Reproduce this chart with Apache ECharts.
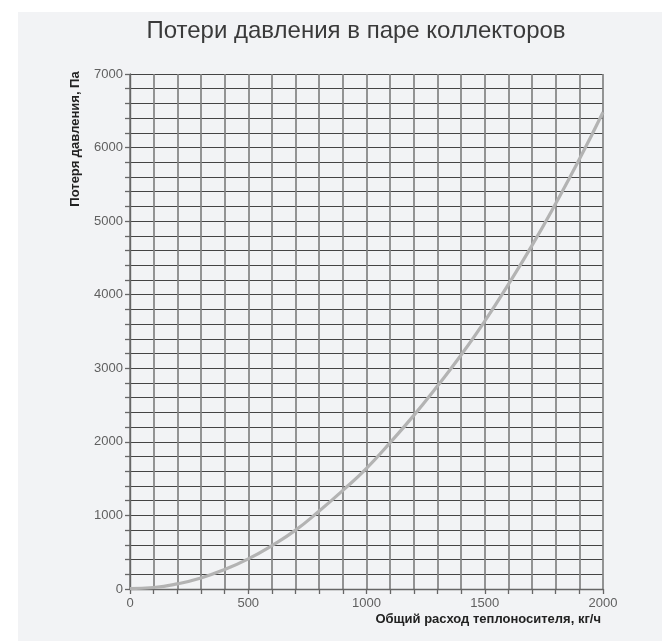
<!DOCTYPE html>
<html>
<head>
<meta charset="utf-8">
<script src="https://cdn.jsdelivr.net/npm/echarts@6/dist/echarts.min.js"></script>
<style>
html,body{margin:0;padding:0;background:#ffffff;}
#panel{position:absolute;left:18px;top:12px;width:644px;height:629px;background:#f2f3f5;}
#chart{position:absolute;left:0;top:0;width:662px;height:643px;}
</style>
</head>
<body>
<div id="panel"></div>
<div id="chart"></div>
<script>
const titleText = 'Потери давления в паре коллекторов';
const xName = 'Общий расход теплоносителя, кг/ч';
const yName = 'Потеря давления, Па';
const flow = [0,100,200,300,400,500,600,700,800,900,1000,1100,1200,1300,1400,1500,1600,1700,1800,1900,2000];
const loss = [5,20,70,150,265,410,590,800,1060,1340,1640,1990,2360,2760,3180,3640,4140,4670,5240,5840,6480];

const chart = echarts.init(document.getElementById('chart'), null, {renderer:'canvas'});
chart.setOption({
  backgroundColor: 'transparent',
  animation: false,
  title: {
    text: titleText, left: 351, top: 14, textAlign: 'center',
    textStyle: {fontFamily: 'Liberation Sans', fontSize: 24, fontWeight: 'normal', color: '#3a3a3a'}
  },
  grid: {left: 130, right: 59, top: 74, bottom: 54, containLabel: false},
  xAxis: {
    type: 'value', min: 0, max: 2000, interval: 100,
    name: xName, nameLocation: 'end', nameGap: 0,
    nameTextStyle: {fontFamily: 'Liberation Sans', fontSize: 13, fontWeight: 'bold', color: '#222',
      align: 'right', verticalAlign: 'top', padding: [24, 2, 0, 0]},
    axisLine: {show: true, lineStyle: {color: '#666', width: 1.4}},
    axisTick: {show: true, length: 5, lineStyle: {color: '#666', width: 1.3}},
    axisLabel: {fontFamily: 'Liberation Sans', fontSize: 13, color: '#606060', margin: 8,
      formatter: v => (v % 500 === 0 ? String(v) : '')},
    splitLine: {show: true, lineStyle: {color: '#828282', width: 1.7}}
  },
  yAxis: {
    type: 'value', min: 0, max: 7000, interval: 200,
    axisLine: {show: true, lineStyle: {color: '#666', width: 1.4}},
    axisTick: {show: true, length: 5, lineStyle: {color: '#666', width: 1.3}},
    axisLabel: {fontFamily: 'Liberation Sans', fontSize: 13, color: '#606060', margin: 7,
      formatter: v => (v % 1000 === 0 ? String(v) : '')},
    splitLine: {show: true, lineStyle: {color: '#444444', width: 1.2}}
  },
  graphic: [{
    type: 'text', x: 75, y: 139, rotation: Math.PI / 2,
    style: {text: yName, fontFamily: 'Liberation Sans', fontSize: 13, fontWeight: 'bold',
      fill: '#222', align: 'center', verticalAlign: 'middle'}
  }],
  series: [{
    type: 'line', data: flow.map((x, i) => [x, loss[i]]), smooth: true, symbol: 'none',
    lineStyle: {color: '#b3b3b3', width: 3.2}, z: 5
  }]
});
</script>
</body>
</html>
